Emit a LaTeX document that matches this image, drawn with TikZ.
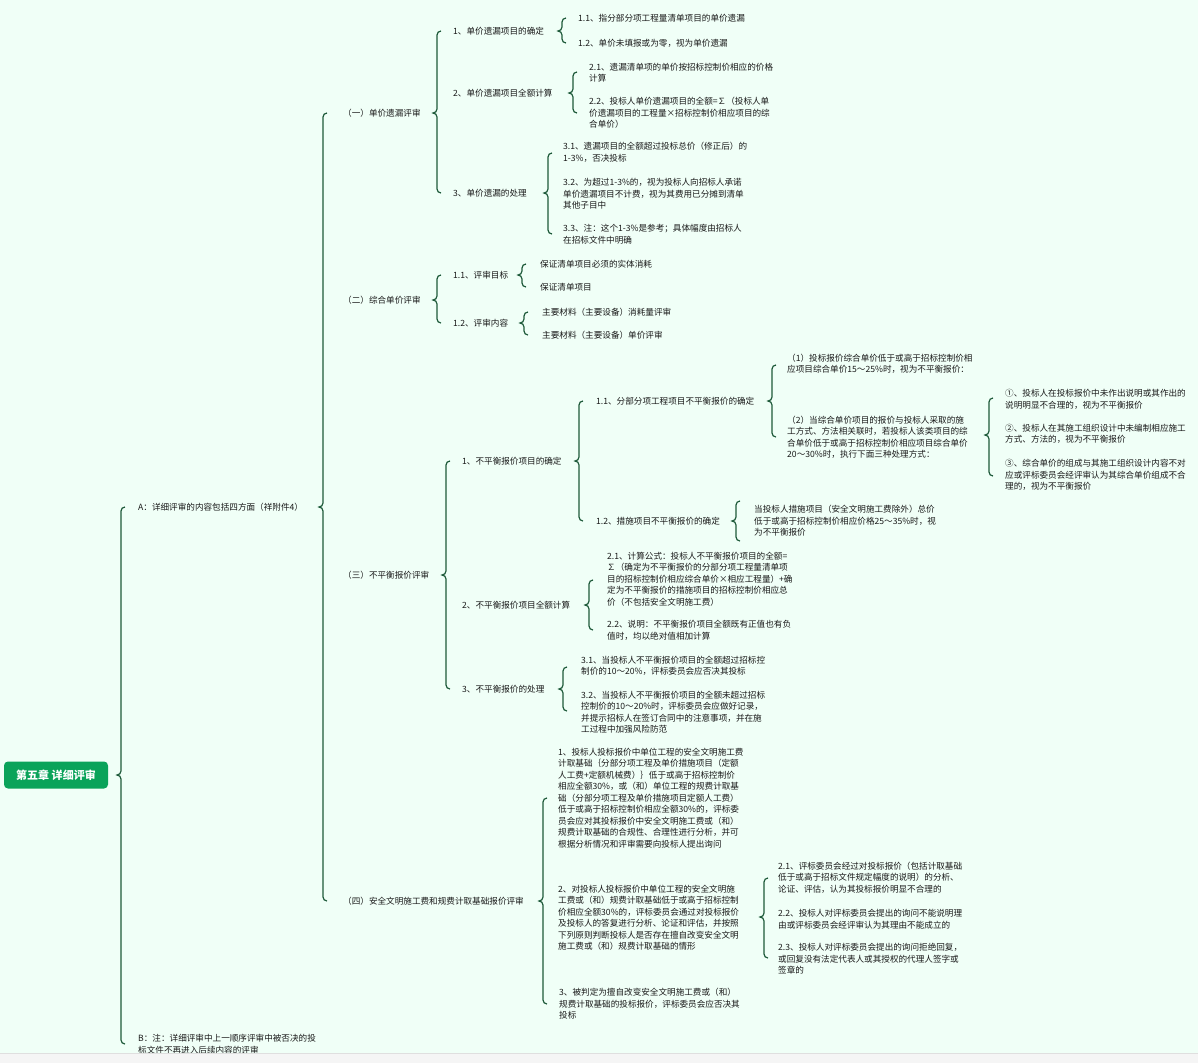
\documentclass[tikz,border=0pt]{standalone}
\usepackage{fontspec}
\newfontfamily\cjk{Noto Sans CJK SC}
\definecolor{bgc}{RGB}{240,255,247}
\definecolor{brc}{RGB}{30,90,58}
\definecolor{rootg}{RGB}{10,163,90}
\definecolor{txtc}{RGB}{25,25,25}
\tikzset{
  txt/.style={anchor=west,inner sep=0pt,align=left,text=txtc,font=\cjk\fontsize{8.6}{11.5}\selectfont},
  rootbox/.style={fill=rootg,rounded corners=4pt,minimum width=104pt,minimum height=27pt,text=white,font=\cjk\bfseries\fontsize{11}{13}\selectfont,inner sep=0pt},
  brcline/.style={draw=brc,line width=1.2pt}
}
\newcommand\mybrace[4]{%
  \draw[brcline] (#1+4,#2) to[out=180,in=90] (#1,#2+4) -- (#1,#3-4) to[out=-90,in=0] (#1-4,#3) to[out=0,in=90] (#1,#3+4) -- (#1,#4-4) to[out=-90,in=180] (#1+4,#4);}
\begin{document}
\begin{tikzpicture}[x=1pt,y=-1pt]
\fill[bgc] (0,0) rectangle (1198,1063);
\useasboundingbox (0,0) rectangle (1198,1063);
% root
\node[rootbox] (root) at (56,775) {第五章 详细评审};
\node[txt] (A) at (138,507) {A：详细评审的内容包括四方面（祥附件4）};
\node[txt] (B) at (138,1044) {B：注：详细评审中上一顺序评审中被否决的投\\标文件不再进入后续内容的评审};
% level 2
\node[txt] (n1) at (343,113) {（一）单价遗漏评审};
\node[txt] (n2) at (343,300) {（二）综合单价评审};
\node[txt] (n3) at (343,575) {（三）不平衡报价评审};
\node[txt] (n4) at (343,901) {（四）安全文明施工费和规费计取基础报价评审};
% under n1
\node[txt] (a1) at (453,31) {1、单价遗漏项目的确定};
\node[txt] (a2) at (453,93) {2、单价遗漏项目全额计算};
\node[txt] (a3) at (453,193) {3、单价遗漏的处理};
\node[txt] (a11) at (578,18) {1.1、指分部分项工程量清单项目的单价遗漏};
\node[txt] (a12) at (578,43) {1.2、单价未填报或为零，视为单价遗漏};
\node[txt] (a21) at (589,72.5) {2.1、遗漏清单项的单价按招标控制价相应的价格\\计算};
\node[txt] (a22) at (589,113) {2.2、投标人单价遗漏项目的全额=∑（投标人单\\价遗漏项目的工程量×招标控制价相应项目的综\\合单价）};
\node[txt] (a31) at (563,152.5) {3.1、遗漏项目的全额超过投标总价（修正后）的\\1-3\%，否决投标};
\node[txt] (a32) at (563,194) {3.2、为超过1-3\%的，视为投标人向招标人承诺\\单价遗漏项目不计费，视为其费用已分摊到清单\\其他子目中};
\node[txt] (a33) at (563,234) {3.3、注：这个1-3\%是参考；具体幅度由招标人\\在招标文件中明确};
% under n2
\node[txt] (b1) at (453,275) {1.1、评审目标};
\node[txt] (b2) at (453,323) {1.2、评审内容};
\node[txt] (b11) at (540,264) {保证清单项目必须的实体消耗};
\node[txt] (b12) at (540,287) {保证清单项目};
\node[txt] (b21) at (542,312) {主要材料（主要设备）消耗量评审};
\node[txt] (b22) at (542,335) {主要材料（主要设备）单价评审};
% under n3
\node[txt] (c1) at (462,461) {1、不平衡报价项目的确定};
\node[txt] (c2) at (462,605) {2、不平衡报价项目全额计算};
\node[txt] (c3) at (462,689) {3、不平衡报价的处理};
\node[txt] (c11) at (596,401) {1.1、分部分项工程项目不平衡报价的确定};
\node[txt] (c12) at (596,521) {1.2、措施项目不平衡报价的确定};
\node[txt] (c111) at (787,364) {（1）投标报价综合单价低于或高于招标控制价相\\应项目综合单价15～25\%时，视为不平衡报价：};
\node[txt] (c112) at (787,437.5) {（2）当综合单价项目的报价与投标人采取的施\\工方式、方法相关联时，若投标人该类项目的综\\合单价低于或高于招标控制价相应项目综合单价\\20～30\%时，执行下面三种处理方式：};
\node[txt] (d1) at (1005,399.5) {①、投标人在投标报价中未作出说明或其作出的\\说明明显不合理的，视为不平衡报价};
\node[txt] (d2) at (1005,434) {②、投标人在其施工组织设计中未编制相应施工\\方式、方法的，视为不平衡报价};
\node[txt] (d3) at (1005,475) {③、综合单价的组成与其施工组织设计内容不对\\应或评标委员会经评审认为其综合单价组成不合\\理的，视为不平衡报价};
\node[txt] (c121) at (754,521) {当投标人措施项目（安全文明施工费除外）总价\\低于或高于招标控制价相应价格25～35\%时，视\\为不平衡报价};
\node[txt] (c21) at (607,579) {2.1、计算公式：投标人不平衡报价项目的全额=\\∑（确定为不平衡报价的分部分项工程量清单项\\目的招标控制价相应综合单价×相应工程量）+确\\定为不平衡报价的措施项目的招标控制价相应总\\价（不包括安全文明施工费）};
\node[txt] (c22) at (607,630.5) {2.2、说明：不平衡报价项目全额既有正值也有负\\值时，均以绝对值相加计算};
\node[txt] (c31) at (581,666) {3.1、当投标人不平衡报价项目的全额超过招标控\\制价的10～20\%，评标委员会应否决其投标};
\node[txt] (c32) at (581,712) {3.2、当投标人不平衡报价项目的全额未超过招标\\控制价的10～20\%时，评标委员会应做好记录，\\并提示招标人在签订合同中的注意事项，并在施\\工过程中加强风险防范};
% under n4
\node[txt] (e1) at (558,798) {1、投标人投标报价中单位工程的安全文明施工费\\计取基础｛分部分项工程及单价措施项目（定额\\人工费+定额机械费）｝低于或高于招标控制价\\相应全额30\%，或（和）单位工程的规费计取基\\础（分部分项工程及单价措施项目定额人工费）\\低于或高于招标控制价相应全额30\%的，评标委\\员会应对其投标报价中安全文明施工费或（和）\\规费计取基础的合规性、合理性进行分析，并可\\根据分析情况和评审需要向投标人提出询问};
\node[txt] (e2) at (558,917.5) {2、对投标人投标报价中单位工程的安全文明施\\工费或（和）规费计取基础低于或高于招标控制\\价相应全额30\%的，评标委员会通过对投标报价\\及投标人的答复进行分析、论证和评估，并按照\\下列原则判断投标人是否存在擅自改变安全文明\\施工费或（和）规费计取基础的情形};
\node[txt] (e3) at (559,1004) {3、被判定为擅自改变安全文明施工费或（和）\\规费计取基础的投标报价，评标委员会应否决其\\投标};
\node[txt] (e21) at (778,877.5) {2.1、评标委员会经过对投标报价（包括计取基础\\低于或高于招标文件规定幅度的说明）的分析、\\论证、评估，认为其投标报价明显不合理的};
\node[txt] (e22) at (778,919) {2.2、投标人对评标委员会提出的询问不能说明理\\由或评标委员会经评审认为其理由不能成立的};
\node[txt] (e23) at (778,959) {2.3、投标人对评标委员会提出的询问拒绝回复，\\或回复没有法定代表人或其授权的代理人签字或\\签章的};
% braces
\mybrace{121}{507}{775}{1044}
\mybrace{323}{113}{507}{901}
\mybrace{437}{31}{113}{193}
\mybrace{562}{18}{31}{43}
\mybrace{573}{72}{93}{113}
\mybrace{548}{153}{193}{234}
\mybrace{437}{275}{300}{323}
\mybrace{522}{264}{275}{287}
\mybrace{524}{312}{323}{335}
\mybrace{446}{461}{575}{689}
\mybrace{579}{401}{461}{521}
\mybrace{772}{365}{401}{437}
\mybrace{989}{398}{435}{476}
\mybrace{736}{501}{521}{541}
\mybrace{589}{580}{605}{630}
\mybrace{563}{667}{689}{711}
\mybrace{543}{798}{901}{1004}
\mybrace{764}{878}{917}{958}
% bottom band
\fill[gray!8] (0,1053) rectangle (1198,1063);
\draw[gray!25,line width=0.6pt] (0,1053) -- (1198,1053);
\end{tikzpicture}
\end{document}
